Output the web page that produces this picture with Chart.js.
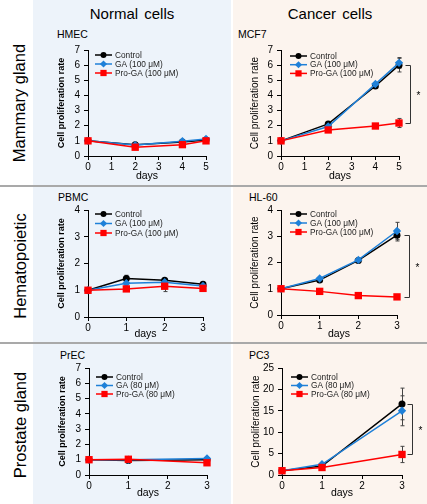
<!DOCTYPE html>
<html>
<head>
<meta charset="utf-8">
<script src="https://cdn.jsdelivr.net/npm/chart.js@4.4.1/dist/chart.umd.min.js"></script>
<style>
  body { margin: 0; }
  #fig { position: relative; width: 427px; height: 504px; background: #fff; overflow: hidden;
         font-family: Arial, "Liberation Sans", sans-serif; color: #000; }
  .bg { position: absolute; top: 0; height: 504px; }
  .sep { position: absolute; left: 0; width: 427px; height: 2px; background: #a9a9a9; }
  .col { position: absolute; top: 5px; line-height: 18px; font-size: 15px; text-align: center; word-spacing: 2px; }
  .row { position: absolute; font-size: 16.5px; line-height: 20px; white-space: nowrap;
         transform: translate(-50%, -50%) rotate(-90deg); }
  .cell { position: absolute; font-size: 10.5px; line-height: 12px; }
  canvas { position: absolute; }
</style>
</head>
<body>
<div id="fig">
  <div class="bg" style="left:33px;width:198px;background:#edf3fa"></div>
  <div class="bg" style="left:233px;width:194px;background:#fcf4ee"></div>
  <div class="sep" style="top:185px"></div>
  <div class="sep" style="top:342px"></div>

  <div class="col" style="left:33px;width:198px">Normal cells</div>
  <div class="col" style="left:233px;width:194px">Cancer cells</div>

  <div class="row" style="left:19px;top:103px">Mammary gland</div>
  <div class="row" style="left:20px;top:266px">Hematopoietic</div>
  <div class="row" style="left:20px;top:425px">Prostate gland</div>

  <div class="cell" style="left:57px;top:28px">HMEC</div>
  <div class="cell" style="left:238px;top:28px">MCF7</div>
  <div class="cell" style="left:58px;top:191px">PBMC</div>
  <div class="cell" style="left:249px;top:191px">HL-60</div>
  <div class="cell" style="left:60px;top:349px">PrEC</div>
  <div class="cell" style="left:249px;top:349px">PC3</div>

  <canvas id="hmec"></canvas>
  <canvas id="mcf7"></canvas>
  <canvas id="pbmc"></canvas>
  <canvas id="hl60"></canvas>
  <canvas id="prec"></canvas>
  <canvas id="pc3"></canvas>
</div>

<script>
// ---- data ----
const hmecDays = [0, 2, 4, 5];
const hmecControl = [1, 0.75, 0.93, 1.05];
const hmecGA = [1, 0.72, 0.97, 1.13];
const hmecProGA = [1, 0.58, 0.75, 1.0];

const mcf7Days = [0, 2, 4, 5];
const mcf7Control = [1, 2.12, 4.62, 6.0];
const mcf7ControlErr = [0, 0.08, 0.1, 0.45];
const mcf7GA = [1, 1.95, 4.75, 6.15];
const mcf7GAErr = [0, 0, 0.1, 0.35];
const mcf7ProGA = [1, 1.72, 1.98, 2.18];
const mcf7ProGAErr = [0, 0.05, 0.08, 0.3];

const pbmcDays = [0, 1, 2, 3];
const pbmcControl = [1, 1.44, 1.37, 1.22];
const pbmcControlErr = [0, 0.12, 0.05, 0.05];
const pbmcGA = [1, 1.26, 1.3, 1.16];
const pbmcProGA = [1, 1.05, 1.15, 1.07];
const pbmcProGAErr = [0, 0.05, 0.2, 0.05];

const hl60Days = [0, 1, 2, 3];
const hl60Control = [1, 1.33, 2.08, 3.04];
const hl60ControlErr = [0, 0.05, 0.05, 0.22];
const hl60GA = [1, 1.39, 2.1, 3.2];
const hl60GAErr = [0, 0, 0, 0.33];
const hl60ProGA = [1, 0.9, 0.74, 0.69];

const precDays = [0, 1, 3];
const precControl = [1, 0.95, 1.0];
const precGA = [1, 1.0, 1.08];
const precProGA = [1, 1.03, 0.8];

const pc3Days = [0, 1, 3];
const pc3Control = [1, 2.1, 16.6];
const pc3ControlErr = [0, 0.3, 3.7];
const pc3GA = [1, 2.5, 15.0];
const pc3GAErr = [0, 0.3, 3.5];
const pc3ProGA = [1, 1.75, 4.8];
const pc3ProGAErr = [0, 0.3, 1.9];

const labels100 = ["Control", "GA (100 μM)", "Pro-GA (100 μM)"];
const labels80 = ["Control", "GA (80 μM)", "Pro-GA (80 μM)"];

// ---- styles ----
Chart.defaults.font.family = 'Arial, "Liberation Sans", sans-serif';
Chart.defaults.color = "#000";

const seriesStyle = [
  { color: "#000000", pointStyle: "circle", radius: 3.5, order: 2 },
  { color: "#1f80d8", pointStyle: "rectRot", radius: 4.2, order: 1 },
  { color: "#ff0000", pointStyle: "rect", radius: 5.2, order: 0 },
];

function drawMarker(ctx, style, x, y, r, color) {
  ctx.fillStyle = color;
  ctx.beginPath();
  if (style === "circle") {
    ctx.arc(x, y, r, 0, Math.PI * 2);
  } else if (style === "rectRot") {
    ctx.moveTo(x, y - r); ctx.lineTo(x + r, y); ctx.lineTo(x, y + r); ctx.lineTo(x - r, y);
    ctx.closePath();
  } else {
    const s = r * Math.SQRT1_2;
    ctx.rect(x - s, y - s, 2 * s, 2 * s);
  }
  ctx.fill();
}

const errorBars = {
  id: "errorBars",
  beforeDatasetsDraw(chart) {
    const { ctx, scales: { x, y } } = chart;
    ctx.save();
    ctx.strokeStyle = "#444";
    ctx.lineWidth = 1;
    chart.data.datasets.forEach((ds) => {
      (ds.errors || []).forEach((e, i) => {
        if (!e) return;
        const p = ds.data[i];
        const px = Math.round(x.getPixelForValue(p.x)) + 0.5;
        const top = y.getPixelForValue(p.y + e);
        const bot = y.getPixelForValue(p.y - e);
        ctx.beginPath();
        ctx.moveTo(px, top); ctx.lineTo(px, bot);
        ctx.moveTo(px - 2, top); ctx.lineTo(px + 2, top);
        ctx.moveTo(px - 2, bot); ctx.lineTo(px + 2, bot);
        ctx.stroke();
      });
    });
    ctx.restore();
  },
};

const miniLegend = {
  id: "miniLegend",
  afterDatasetsDraw(chart, args, opts) {
    const { ctx, chartArea } = chart;
    ctx.save();
    ctx.font = '8.3px Arial, "Liberation Sans", sans-serif';
    ctx.textBaseline = "middle";
    // legend order follows dataset index
    chart.data.datasets.forEach((ds, i) => {
      const y = chartArea.top + opts.dy + i * opts.gap;
      const x = chartArea.left + opts.dx;
      ctx.strokeStyle = ds.borderColor;
      ctx.lineWidth = 1.5;
      ctx.beginPath();
      ctx.moveTo(x, y); ctx.lineTo(x + 17, y);
      ctx.stroke();
      drawMarker(ctx, ds.pointStyle, x + 8.5, y, ds.pointRadius * 0.85, ds.borderColor);
      ctx.fillStyle = "#222";
      ctx.fillText(ds.label, x + 20, y + 0.5);
    });
    ctx.restore();
  },
};

const sigBracket = {
  id: "sigBracket",
  afterDatasetsDraw(chart, args, opts) {
    if (!opts.show) return;
    const { ctx, scales: { x, y } } = chart;
    const a = chart.data.datasets[0].data.at(-1);
    const b = chart.data.datasets[2].data.at(-1);
    const bx = Math.round(x.getPixelForValue(a.x) + opts.gap) + 0.5;
    const ya = Math.round(y.getPixelForValue(a.y)) + 0.5;
    const yb = Math.round(y.getPixelForValue(b.y)) + 0.5;
    ctx.save();
    ctx.strokeStyle = "#333";
    ctx.lineWidth = 1;
    ctx.beginPath();
    ctx.moveTo(bx - 5, ya); ctx.lineTo(bx, ya); ctx.lineTo(bx, yb); ctx.lineTo(bx - 5, yb);
    ctx.stroke();
    ctx.fillStyle = "#000";
    ctx.font = '10px Arial, "Liberation Sans", sans-serif';
    ctx.textAlign = "center";
    ctx.textBaseline = "middle";
    ctx.fillText("*", bx + 8, (ya + yb) / 2 + 2);
    ctx.restore();
  },
};

function makeChart(id, cfg) {
  const { x0, x1, y0, y1, hx } = cfg.box;
  const yw = 32, padTop = 8, padRight = 26;
  const canvas = document.getElementById(id);
  const W = x1 + padRight - (x0 - yw);
  const H = y1 + hx - (y0 - padTop);
  canvas.width = W; canvas.height = H;
  canvas.style.left = (x0 - yw) + "px";
  canvas.style.top = (y0 - padTop) + "px";
  canvas.style.width = W + "px";
  canvas.style.height = H + "px";

  const datasets = cfg.series.map((s, i) => ({
    label: cfg.labels[i],
    data: cfg.days.map((d, j) => ({ x: d, y: s.values[j] })),
    errors: s.errors || null,
    borderColor: seriesStyle[i].color,
    backgroundColor: seriesStyle[i].color,
    pointStyle: seriesStyle[i].pointStyle,
    pointRadius: seriesStyle[i].radius,
    pointBorderWidth: 0,
    borderWidth: 1.5,
    order: seriesStyle[i].order,
    clip: false,
    tension: 0,
  }));

  const axisGrid = { drawOnChartArea: false, drawTicks: true, tickLength: 4, color: "#000" };
  const axisBorder = { color: "#000", width: 1 };

  new Chart(canvas, {
    type: "line",
    data: { datasets },
    options: {
      responsive: false,
      animation: false,
      events: [],
      layout: { padding: { top: padTop, right: padRight, left: 0, bottom: 0 } },
      scales: {
        x: {
          type: "linear",
          min: 0,
          max: cfg.xMax,
          ticks: { stepSize: 1, font: { size: 10 }, color: "#000", padding: 1 },
          grid: axisGrid,
          border: axisBorder,
          title: { display: true, text: "days", font: { size: 10.5 }, color: "#000", padding: 0 },
          afterFit(s) { s.height = hx; },
        },
        y: {
          min: 0,
          max: cfg.yMax,
          ticks: { stepSize: cfg.yStep, font: { size: 10 }, color: "#000", padding: 4 },
          grid: axisGrid,
          border: axisBorder,
          title: {
            display: true,
            text: "Cell proliferation rate",
            font: cfg.titleFont,
            color: "#000",
            padding: 0,
          },
          afterFit(s) { s.width = yw; },
        },
      },
      plugins: {
        legend: { display: false },
        tooltip: { enabled: false },
        miniLegend: cfg.legend,
        sigBracket: cfg.sig || { show: false },
      },
    },
    plugins: [errorBars, miniLegend, sigBracket],
  });
}

const leftTitle = { size: 9, weight: "bold" };
const rightTitle = { size: 10 };

makeChart("hmec", {
  box: { x0: 88, x1: 206, y0: 48, y1: 156, hx: 26 },
  days: hmecDays, xMax: 5, yMax: 7, yStep: 1, labels: labels100, titleFont: leftTitle,
  series: [{ values: hmecControl }, { values: hmecGA }, { values: hmecProGA }],
  legend: { dx: 7, dy: 5, gap: 9 },
});

makeChart("mcf7", {
  box: { x0: 281, x1: 399, y0: 48, y1: 156, hx: 26 },
  days: mcf7Days, xMax: 5, yMax: 7, yStep: 1, labels: labels100, titleFont: rightTitle,
  series: [
    { values: mcf7Control, errors: mcf7ControlErr },
    { values: mcf7GA, errors: mcf7GAErr },
    { values: mcf7ProGA, errors: mcf7ProGAErr },
  ],
  legend: { dx: 9, dy: 6, gap: 8.7 },
  sig: { show: true, gap: 11 },
});

makeChart("pbmc", {
  box: { x0: 88, x1: 203, y0: 208, y1: 317, hx: 23 },
  days: pbmcDays, xMax: 3, yMax: 4, yStep: 1, labels: labels100, titleFont: leftTitle,
  series: [
    { values: pbmcControl, errors: pbmcControlErr },
    { values: pbmcGA },
    { values: pbmcProGA, errors: pbmcProGAErr },
  ],
  legend: { dx: 7, dy: 4, gap: 9.5 },
});

makeChart("hl60", {
  box: { x0: 281, x1: 397, y0: 208, y1: 315, hx: 25 },
  days: hl60Days, xMax: 3, yMax: 4, yStep: 1, labels: labels100, titleFont: rightTitle,
  series: [
    { values: hl60Control, errors: hl60ControlErr },
    { values: hl60GA, errors: hl60GAErr },
    { values: hl60ProGA },
  ],
  legend: { dx: 9, dy: 4, gap: 9 },
  sig: { show: true, gap: 12 },
});

makeChart("prec", {
  box: { x0: 89, x1: 207, y0: 366, y1: 475, hx: 24 },
  days: precDays, xMax: 3, yMax: 7, yStep: 1, labels: labels80, titleFont: leftTitle,
  series: [{ values: precControl }, { values: precGA }, { values: precProGA }],
  legend: { dx: 7, dy: 9, gap: 8.5 },
});

makeChart("pc3", {
  box: { x0: 282, x1: 402, y0: 366, y1: 475, hx: 24 },
  days: pc3Days, xMax: 3, yMax: 25, yStep: 5, labels: labels80, titleFont: rightTitle,
  series: [
    { values: pc3Control, errors: pc3ControlErr },
    { values: pc3GA, errors: pc3GAErr },
    { values: pc3ProGA, errors: pc3ProGAErr },
  ],
  legend: { dx: 9, dy: 9, gap: 8.5 },
  sig: { show: true, gap: 10 },
});
</script>
</body>
</html>
